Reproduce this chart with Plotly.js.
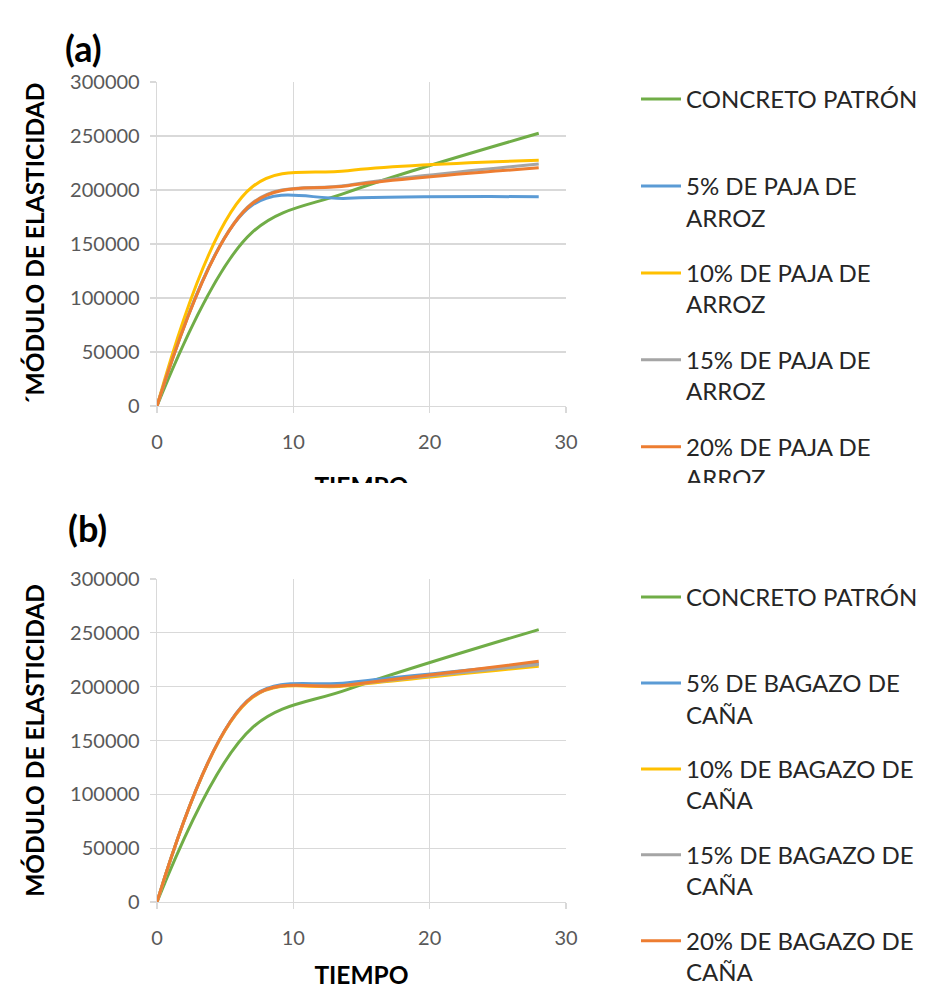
<!DOCTYPE html>
<html>
<head>
<meta charset="utf-8">
<script src="https://cdn.plot.ly/plotly-3.0.1.min.js"></script>
<style>
  html, body { margin: 0; padding: 0; background: #fff; }
  #wrap { position: relative; width: 925px; height: 989px; }
  #chart { width: 925px; height: 989px; }
  #cut { position: absolute; left: 0; top: 483px; width: 925px; height: 20px; background: #fff; }
</style>
</head>
<body>
<div id="wrap">
  <div id="chart"></div>
  <div id="cut"></div>
</div>
<script>
// ---- data ----
const tiempo = [0, 7, 14, 28];

const namesA = ["CONCRETO PATRÓN<br>\u00a0", "5% DE PAJA DE<br>ARROZ", "10% DE PAJA DE<br>ARROZ", "15% DE PAJA DE<br>ARROZ", "20% DE PAJA DE<br>ARROZ"];
const patronA = [0, 161000, 198000, 252500];
const paja5   = [0, 186000, 192300, 193800];
const paja10  = [0, 203000, 217900, 227500];
const paja15  = [0, 188000, 204500, 224000];
const paja20  = [0, 187500, 204000, 220500];

const namesB = ["CONCRETO PATRÓN<br>\u00a0", "5% DE BAGAZO DE<br>CAÑA", "10% DE BAGAZO DE<br>CAÑA", "15% DE BAGAZO DE<br>CAÑA", "20% DE BAGAZO DE<br>CAÑA"];
const patronB  = [0, 162000, 197500, 253000];
const bagazo5  = [0, 191000, 203700, 221500];
const bagazo10 = [0, 190000, 200800, 219000];
const bagazo15 = [0, 190500, 201500, 220500];
const bagazo20 = [0, 190500, 201500, 223500];

const colors = ["#70AD47", "#5B9BD5", "#FFC000", "#A5A5A5", "#ED7D31"];

// ---- traces ----
const seriesA = [patronA, paja5, paja10, paja15, paja20];
const seriesB = [patronB, bagazo5, bagazo10, bagazo15, bagazo20];
const traces = [];
seriesA.forEach((y, i) => traces.push({
  x: tiempo, y: y, name: namesA[i], type: "scatter", mode: "lines",
  line: {color: colors[i], width: 3, shape: "spline", smoothing: 1},
  xaxis: "x", yaxis: "y", legend: "legend", legendgroup: "a" + i
}));
seriesB.forEach((y, i) => traces.push({
  x: tiempo, y: y, name: namesB[i], type: "scatter", mode: "lines",
  line: {color: colors[i], width: 3, shape: "spline", smoothing: 1},
  xaxis: "x2", yaxis: "y2", legend: "legend2", legendgroup: "b" + i
}));

const W = 925, H = 989;
const px = v => v / W;
const py = v => 1 - v / H;

const tickFont = {family: "Lato, sans-serif", size: 20, color: "#595959"};
const titleFont = {family: "Lato, sans-serif", size: 24.5, color: "#000", weight: "bold"};

function xAxis(anchor) {
  return {
    domain: [px(157), px(566)], anchor: anchor, range: [0, 30], dtick: 10, tick0: 0,
    showgrid: true, gridcolor: "#D9D9D9", gridwidth: 1.3,
    showline: true, linecolor: "#D9D9D9", linewidth: 1.3,
    ticks: "outside", ticklen: 6, tickcolor: "#D9D9D9", tickwidth: 1.3,
    zeroline: false, tickfont: tickFont, ticklabelstandoff: 12,
    title: {text: "TIEMPO", font: titleFont, standoff: 25}, automargin: false
  };
}
function yAxis(top, bottom, anchor, title) {
  return {
    domain: [py(bottom), py(top)], anchor: anchor, range: [0, 300000], dtick: 50000, tick0: 0,
    showgrid: true, gridcolor: "#D9D9D9", gridwidth: 1.3,
    showline: true, linecolor: "#D9D9D9", linewidth: 1.3,
    ticks: "outside", ticklen: 6, tickcolor: "#D9D9D9", tickwidth: 1.3,
    zeroline: false, tickfont: tickFont, ticklabelstandoff: 6, tickformat: "d",
    title: {text: title, font: titleFont, standoff: 18}, automargin: false
  };
}

const legendBase = {
  font: {family: "Lato, sans-serif", size: 24, color: "#262626"},
  bgcolor: "rgba(0,0,0,0)", valign: "top", traceorder: "grouped",
  tracegroupgap: 21.5, itemwidth: 40, xanchor: "left", yanchor: "top"
};

const layout = {
  width: W, height: H,
  margin: {l: 0, r: 0, t: 0, b: 0, autoexpand: false},
  paper_bgcolor: "#fff", plot_bgcolor: "#fff",
  showlegend: true,
  xaxis: xAxis("y"),
  yaxis: yAxis(82, 406, "x", "´MÓDULO DE ELASTICIDAD"),
  xaxis2: xAxis("y2"),
  yaxis2: yAxis(579, 902, "x2", "MÓDULO DE ELASTICIDAD"),
  legend: Object.assign({}, legendBase, {x: px(636), y: py(77)}),
  legend2: Object.assign({}, legendBase, {x: px(636), y: py(575), tracegroupgap: 20.5}),
  annotations: [
    {text: "(a)", x: px(63), y: py(48), xref: "paper", yref: "paper", xanchor: "left", yanchor: "middle",
     showarrow: false, font: {family: "Lato, sans-serif", size: 36, color: "#000", weight: "bold"}},
    {text: "(b)", x: px(66), y: py(528), xref: "paper", yref: "paper", xanchor: "left", yanchor: "middle",
     showarrow: false, font: {family: "Lato, sans-serif", size: 36, color: "#000", weight: "bold"}}
  ]
};

Plotly.newPlot("chart", traces, layout, {displayModeBar: false, staticPlot: true});
</script>
</body>
</html>
